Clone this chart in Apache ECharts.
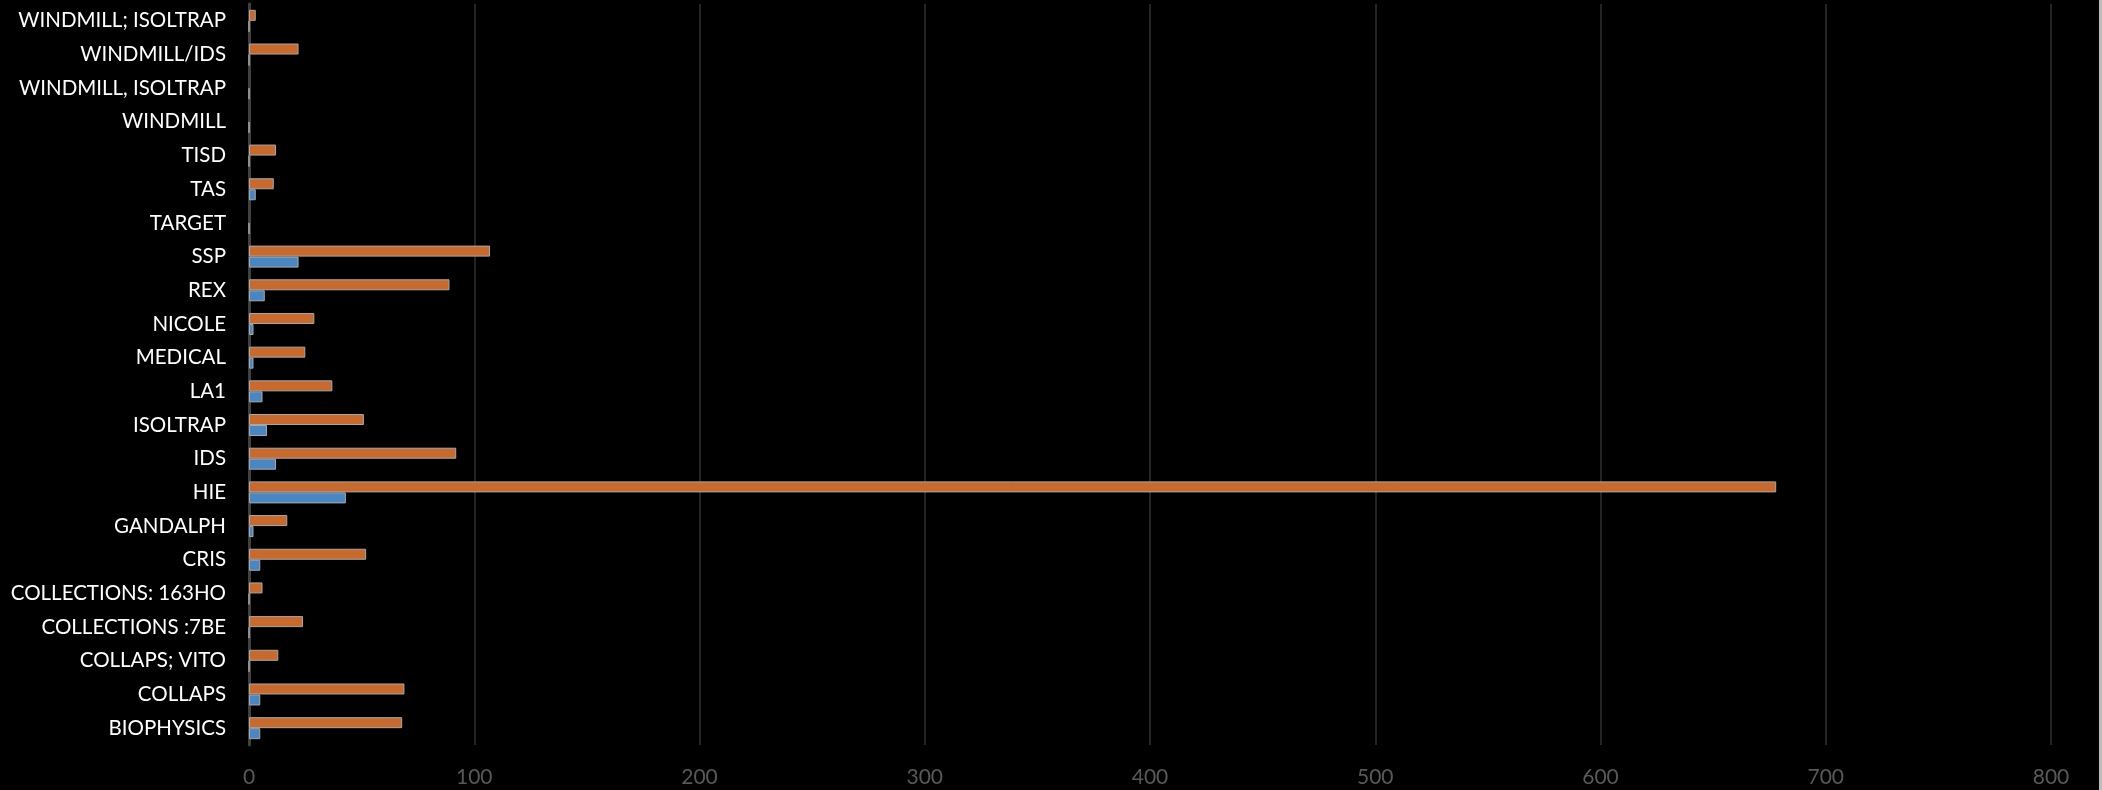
<!DOCTYPE html>
<html>
<head>
<meta charset="utf-8">
<script src="https://cdn.jsdelivr.net/npm/echarts@6/dist/echarts.min.js"></script>
<style>
  html, body { margin: 0; padding: 0; background: #000; }
  #chart { width: 2102px; height: 790px; }
</style>
</head>
<body>
<div id="chart"></div>
<script>
// Facility names, listed bottom to top along the category axis
const categories = [
  'BIOPHYSICS', 'COLLAPS', 'COLLAPS; VITO', 'COLLECTIONS :7BE', 'COLLECTIONS: 163HO',
  'CRIS', 'GANDALPH', 'HIE', 'IDS', 'ISOLTRAP', 'LA1', 'MEDICAL', 'NICOLE', 'REX',
  'SSP', 'TARGET', 'TAS', 'TISD', 'WINDMILL', 'WINDMILL, ISOLTRAP', 'WINDMILL/IDS',
  'WINDMILL; ISOLTRAP'
];

// Orange series (null = empty cell, no bar)
const orangeValues = [
  68, 69, 13, 24, 6,
  52, 17, 678, 92, 51, 37, 25, 29, 89,
  107, null, 11, 12, null, null, 22,
  3
];

// Blue series
const blueValues = [
  5, 5, 0, 0, 0,
  5, 2, 43, 12, 8, 6, 2, 2, 7,
  22, 0, 3, 0, 0, 0, 0,
  0
];

// Value axis range and step
const axisMin = 0;
const axisMax = 800;
const axisStep = 100;

const chart = echarts.init(document.getElementById('chart'), null, { renderer: 'canvas' });

const barBorder = { borderColor: '#a9a9a9', borderWidth: 1 };

chart.setOption({
  backgroundColor: '#000000',
  animation: false,
  grid: { left: 249, right: 51, top: 4, bottom: 45, containLabel: false },
  xAxis: {
    type: 'value',
    min: axisMin,
    max: axisMax,
    interval: axisStep,
    axisLine: { show: false },
    axisTick: { show: false },
    splitLine: { show: true, lineStyle: { color: '#303030', width: 1.5 } },
    axisLabel: {
      color: '#595959',
      fontFamily: 'Lato',
      fontSize: 21,
      margin: 22
    }
  },
  yAxis: {
    type: 'category',
    data: categories,
    axisLine: { show: true, lineStyle: { color: '#404040', width: 3 } },
    axisTick: { show: false },
    splitLine: { show: false },
    axisLabel: {
      color: '#ffffff',
      fontFamily: 'Lato',
      fontSize: 20.5,
      margin: 23,
      interval: 0
    }
  },
  series: [
    // the first series sits on the upper half of each category slot
    {
      name: 'Orange',
      type: 'bar',
      data: orangeValues,
      barWidth: 11,
      barGap: '0%',
      itemStyle: Object.assign({ color: '#c8692e' }, barBorder)
    },
    {
      name: 'Blue',
      type: 'bar',
      data: blueValues,
      barWidth: 11,
      barGap: '0%',
      itemStyle: Object.assign({ color: '#4a86c1' }, barBorder)
    }
  ],
  graphic: [
    {
      type: 'rect',
      right: 0,
      top: 0,
      shape: { width: 3, height: 790 },
      style: { fill: '#bdbdbd' },
      silent: true
    }
  ]
});
</script>
</body>
</html>
